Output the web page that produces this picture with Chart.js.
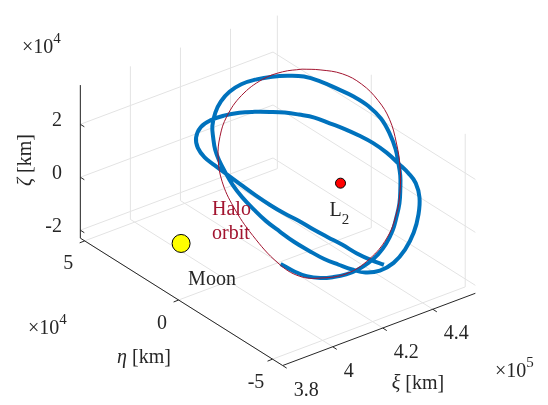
<!DOCTYPE html>
<html>
<head>
<meta charset="utf-8">
<script src="https://cdn.jsdelivr.net/npm/chart.js@4.4.0/dist/chart.umd.min.js"></script>
<style>
    html, body { margin: 0; padding: 0; background: #fff; }
    canvas { display: block; }
</style>
</head>
<body>
<canvas id="orbitChart" width="548" height="405"></canvas>
<script>
/* -------------------------------------------------------------------------- */
/*                                    DATA                                    */
/* -------------------------------------------------------------------------- */
// xi in 1e5 km, eta and zeta in 1e4 km (same as the axis multipliers)

let xiLim = [3.8, 4.57]
let etaLim = [-5.54, 5.23]
let zetaLim = [-2.3, 3.48]

let xiTicks = [3.8, 4, 4.2, 4.4]
let etaTicks = [-5, 0, 5]
let zetaTicks = [-2, 0, 2]

let moon = [3.81, 0, -0.2]
let l2 = [4.447, 0, -0.18]

// halo orbit (thin red)
let haloXi = [4.523, 4.541, 4.559, 4.562, 4.552, 4.531, 4.497, 4.459, 4.417, 4.371, 4.319, 4.263, 4.213,
    4.176, 4.155, 4.155, 4.175, 4.204, 4.237, 4.274, 4.313, 4.356, 4.409, 4.461, 4.496, 4.523]
let haloEta = [3.06, 2.34, 1.39, 0.41, -0.60, -1.49, -2.31, -3.01, -3.57, -3.98, -4.17, -3.99, -3.47,
    -2.58, -1.69, -0.56, 1.05, 2.46, 3.51, 4.21, 4.63, 4.84, 4.77, 4.34, 3.74, 3.06]
let haloZeta = [2.49, 2.72, 2.93, 2.97, 2.84, 2.60, 2.19, 1.74, 1.24, 0.69, 0.06, -0.61, -1.21,
    -1.65, -1.90, -1.91, -1.66, -1.31, -0.93, -0.48, -0.01, 0.50, 1.13, 1.75, 2.18, 2.49]

// trajectory (thick blue)
let trajXi = [4.156, 4.158, 4.163, 4.175, 4.191, 4.210, 4.231, 4.255, 4.281, 4.308, 4.339, 4.366, 4.395,
    4.421, 4.444, 4.465, 4.486, 4.506, 4.523, 4.531, 4.532, 4.527, 4.521, 4.512, 4.495, 4.476, 4.454,
    4.429, 4.402, 4.376, 4.350, 4.323, 4.302, 4.284, 4.270, 4.257, 4.242, 4.231, 4.222, 4.215, 4.212,
    4.210, 4.211, 4.213, 4.219, 4.225, 4.235, 4.254, 4.283, 4.319, 4.359, 4.396, 4.427, 4.448, 4.457,
    4.463, 4.469, 4.471, 4.469, 4.464, 4.458, 4.451, 4.439, 4.427, 4.412, 4.395, 4.376, 4.354, 4.331,
    4.308, 4.285, 4.268, 4.259, 4.257, 4.254, 4.251, 4.249, 4.248, 4.249, 4.252, 4.253, 4.255, 4.258,
    4.259, 4.263, 4.269]
let trajEta = [-0.69, -1.39, -1.98, -2.55, -3.04, -3.46, -3.79, -4.04, -4.21, -4.27, -4.21, -4.05, -3.83,
    -3.53, -3.22, -2.83, -2.41, -1.83, -1.14, -0.36, 0.41, 1.22, 2.07, 2.81, 3.46, 4.03, 4.56,
    5.04, 5.31, 5.42, 5.37, 5.17, 4.84, 4.50, 4.11, 3.62, 3.01, 2.35, 1.61, 0.87, 0.10,
    -0.70, -1.46, -2.25, -2.94, -3.57, -4.16, -4.67, -5.01, -5.14, -5.07, -4.83, -4.47, -3.99, -3.50,
    -2.91, -2.16, -1.42, -0.69, 0.03, 0.72, 1.44, 2.10, 2.70, 3.28, 3.87, 4.44, 4.97, 5.38,
    5.59, 5.53, 5.21, 4.73, 4.18, 3.48, 2.68, 1.88, 1.10, 0.34, -0.39, -1.15, -1.88, -2.62,
    -3.38, -4.09, -4.68]
let trajZeta = [-1.89, -1.87, -1.80, -1.66, -1.46, -1.24, -0.99, -0.71, -0.40, -0.08, 0.29, 0.62, 0.96,
    1.28, 1.56, 1.81, 2.05, 2.30, 2.50, 2.60, 2.60, 2.55, 2.48, 2.36, 2.16, 1.94, 1.68,
    1.37, 1.06, 0.74, 0.43, 0.11, -0.14, -0.35, -0.52, -0.69, -0.86, -1.00, -1.10, -1.18, -1.22,
    -1.25, -1.24, -1.21, -1.14, -1.06, -0.94, -0.71, -0.37, 0.06, 0.53, 0.98, 1.35, 1.60, 1.71,
    1.78, 1.86, 1.88, 1.85, 1.80, 1.72, 1.64, 1.50, 1.35, 1.17, 0.97, 0.75, 0.48, 0.20,
    -0.07, -0.35, -0.54, -0.65, -0.69, -0.72, -0.75, -0.78, -0.79, -0.78, -0.74, -0.73, -0.70, -0.67,
    -0.66, -0.61, -0.54]

/* -------------------------------------------------------------------------- */
/*                                 3D -> 2D VIEW                              */
/* -------------------------------------------------------------------------- */

// box corner (xi min, eta max, zeta min) and the on-screen run of each axis
function project(xi, eta, zeta) {
    let u = (xi - xiLim[0]) / (xiLim[1] - xiLim[0])
    let v = (etaLim[1] - eta) / (etaLim[1] - etaLim[0])
    let w = (zeta - zetaLim[0]) / (zetaLim[1] - zetaLim[0])
    return { x: 73 + 200 * u + 210 * v, y: 240 - 76 * u + 134 * v - 161 * w }
}

function toPoints(xs, es, zs) {
    return xs.map((x, i) => project(x, es[i], zs[i]))
}

let FONT = '"Liberation Serif", "Times New Roman", serif'
let TEXT = '#262626'

function px(chart, p) {
    return { x: chart.scales.x.getPixelForValue(p.x), y: chart.scales.y.getPixelForValue(p.y) }
}

function seg(ctx, chart, a, b) {
    let p = px(chart, project(a[0], a[1], a[2]))
    let q = px(chart, project(b[0], b[1], b[2]))
    ctx.moveTo(p.x, p.y)
    ctx.lineTo(q.x, q.y)
}

// text made of italic / upright pieces
function mixed(ctx, parts, x, y, align) {
    let w = 0
    parts.forEach(p => {
        ctx.font = (p.it ? 'italic ' : '') + (p.size || 20) + 'px ' + FONT
        p.w = ctx.measureText(p.t).width
        w += p.w
    })
    let cx = align === 'center' ? x - w / 2 : (align === 'right' ? x - w : x)
    ctx.textAlign = 'left'
    parts.forEach(p => {
        ctx.font = (p.it ? 'italic ' : '') + (p.size || 20) + 'px ' + FONT
        ctx.fillText(p.t, cx, y + (p.dy || 0))
        cx += p.w
    })
}

function times10(ctx, x, y, exp) {
    mixed(ctx, [{ t: '\u00d7' }, { t: '10' }, { t: exp, size: 15, dy: -10 }], x, y, 'left')
}

let boxPlugin = {
    id: 'box3d',
    beforeDatasetsDraw(chart) {
        let ctx = chart.ctx
        let [x0, x1] = xiLim, [e0, e1] = etaLim, [z0, z1] = zetaLim
        ctx.save()
        ctx.strokeStyle = '#e3e3e3'
        ctx.lineWidth = 1
        ctx.beginPath()
        xiTicks.forEach(t => {
            seg(ctx, chart, [t, e0, z0], [t, e1, z0])
            seg(ctx, chart, [t, e1, z0], [t, e1, z1])
        })
        etaTicks.forEach(t => {
            seg(ctx, chart, [x0, t, z0], [x1, t, z0])
            seg(ctx, chart, [x1, t, z0], [x1, t, z1])
        })
        zetaTicks.forEach(t => {
            seg(ctx, chart, [x0, e1, t], [x1, e1, t])
            seg(ctx, chart, [x1, e1, t], [x1, e0, t])
        })
        ctx.stroke()

        // axis lines
        ctx.strokeStyle = TEXT
        ctx.beginPath()
        seg(ctx, chart, [x0, e1, z0], [x0, e1, z1])
        seg(ctx, chart, [x0, e1, z0], [x0, e0, z0])
        seg(ctx, chart, [x0, e0, z0], [x1, e0, z0])
        // tick marks
        zetaTicks.forEach(t => {
            let p = px(chart, project(x0, e1, t))
            ctx.moveTo(p.x, p.y); ctx.lineTo(p.x + 4, p.y + 2.5)
        })
        etaTicks.forEach(t => {
            let p = px(chart, project(x0, t, z0))
            ctx.moveTo(p.x, p.y); ctx.lineTo(p.x - 5, p.y + 2)
        })
        xiTicks.forEach(t => {
            let p = px(chart, project(t, e0, z0))
            ctx.moveTo(p.x, p.y); ctx.lineTo(p.x + 4, p.y + 2.6)
        })
        ctx.stroke()

        // tick labels
        ctx.fillStyle = TEXT
        ctx.textBaseline = 'alphabetic'
        ctx.font = '20px ' + FONT
        zetaTicks.forEach(t => {
            let p = px(chart, project(x0, e1, t))
            ctx.textAlign = 'right'
            ctx.fillText(String(t), 62, p.y + 1.5)
        })
        etaTicks.forEach(t => {
            let p = px(chart, project(x0, t, z0))
            ctx.textAlign = 'center'
            ctx.fillText(String(t), p.x - 16.5, p.y + 28.5)
        })
        xiTicks.forEach(t => {
            let p = px(chart, project(t, e0, z0))
            ctx.textAlign = 'left'
            ctx.fillText(String(t), p.x + 11, p.y + 30)
        })

        // axis titles and multipliers
        mixed(ctx, [{ t: '\u03b7', it: true }, { t: ' [km]' }], 144, 363, 'center')
        mixed(ctx, [{ t: '\u03be', it: true }, { t: ' [km]' }], 418, 389, 'center')
        ctx.save()
        ctx.translate(31, 160)
        ctx.rotate(-Math.PI / 2)
        mixed(ctx, [{ t: '\u03b6', it: true }, { t: ' [km]' }], 0, 0, 'center')
        ctx.restore()
        times10(ctx, 22, 53, '4')
        times10(ctx, 28, 334, '4')
        times10(ctx, 495, 377, '5')
        ctx.restore()
    },
    afterDatasetsDraw(chart) {
        let ctx = chart.ctx
        ctx.save()
        ctx.textBaseline = 'alphabetic'
        ctx.fillStyle = TEXT
        let m = px(chart, project(moon[0], moon[1], moon[2]))
        mixed(ctx, [{ t: 'Moon' }], m.x + 7, m.y + 42, 'left')
        let l = px(chart, project(l2[0], l2[1], l2[2]))
        mixed(ctx, [{ t: 'L' }, { t: '2', size: 15, dy: 8 }], l.x - 11, l.y + 33, 'left')
        ctx.fillStyle = '#A2142F'
        mixed(ctx, [{ t: 'Halo' }], 212, 215, 'left')
        mixed(ctx, [{ t: 'orbit' }], 212, 239, 'left')
        ctx.restore()
    }
}

new Chart(document.querySelector('#orbitChart'), {
    type: 'scatter',
    data: {
        datasets: [{
            label: 'Moon',
            data: [project(moon[0], moon[1], moon[2])],
            pointRadius: 9,
            backgroundColor: '#FFFF00',
            borderColor: '#000000',
            borderWidth: 1,
            order: 0
        }, {
            label: 'L2',
            data: [project(l2[0], l2[1], l2[2])],
            pointRadius: 5,
            backgroundColor: '#FF0000',
            borderColor: '#000000',
            borderWidth: 1,
            order: 0
        }, {
            label: 'Halo orbit',
            data: toPoints(haloXi, haloEta, haloZeta),
            showLine: true,
            borderColor: '#A2142F',
            borderWidth: 1,
            pointRadius: 0,
            tension: 0.4,
            order: 1
        }, {
            label: 'Trajectory',
            data: toPoints(trajXi, trajEta, trajZeta),
            showLine: true,
            borderColor: '#0072BD',
            borderWidth: 4,
            borderJoinStyle: 'round',
            pointRadius: 0,
            tension: 0.4,
            order: 2
        }]
    },
    options: {
        responsive: false,
        maintainAspectRatio: false,
        animation: false,
        devicePixelRatio: 1,
        layout: { padding: 0 },
        events: [],
        plugins: { legend: { display: false }, tooltip: { enabled: false } },
        scales: {
            x: { type: 'linear', min: 0, max: 548, display: false },
            y: { type: 'linear', min: 0, max: 405, reverse: true, display: false }
        }
    },
    plugins: [boxPlugin]
})
</script>
</body>
</html>
